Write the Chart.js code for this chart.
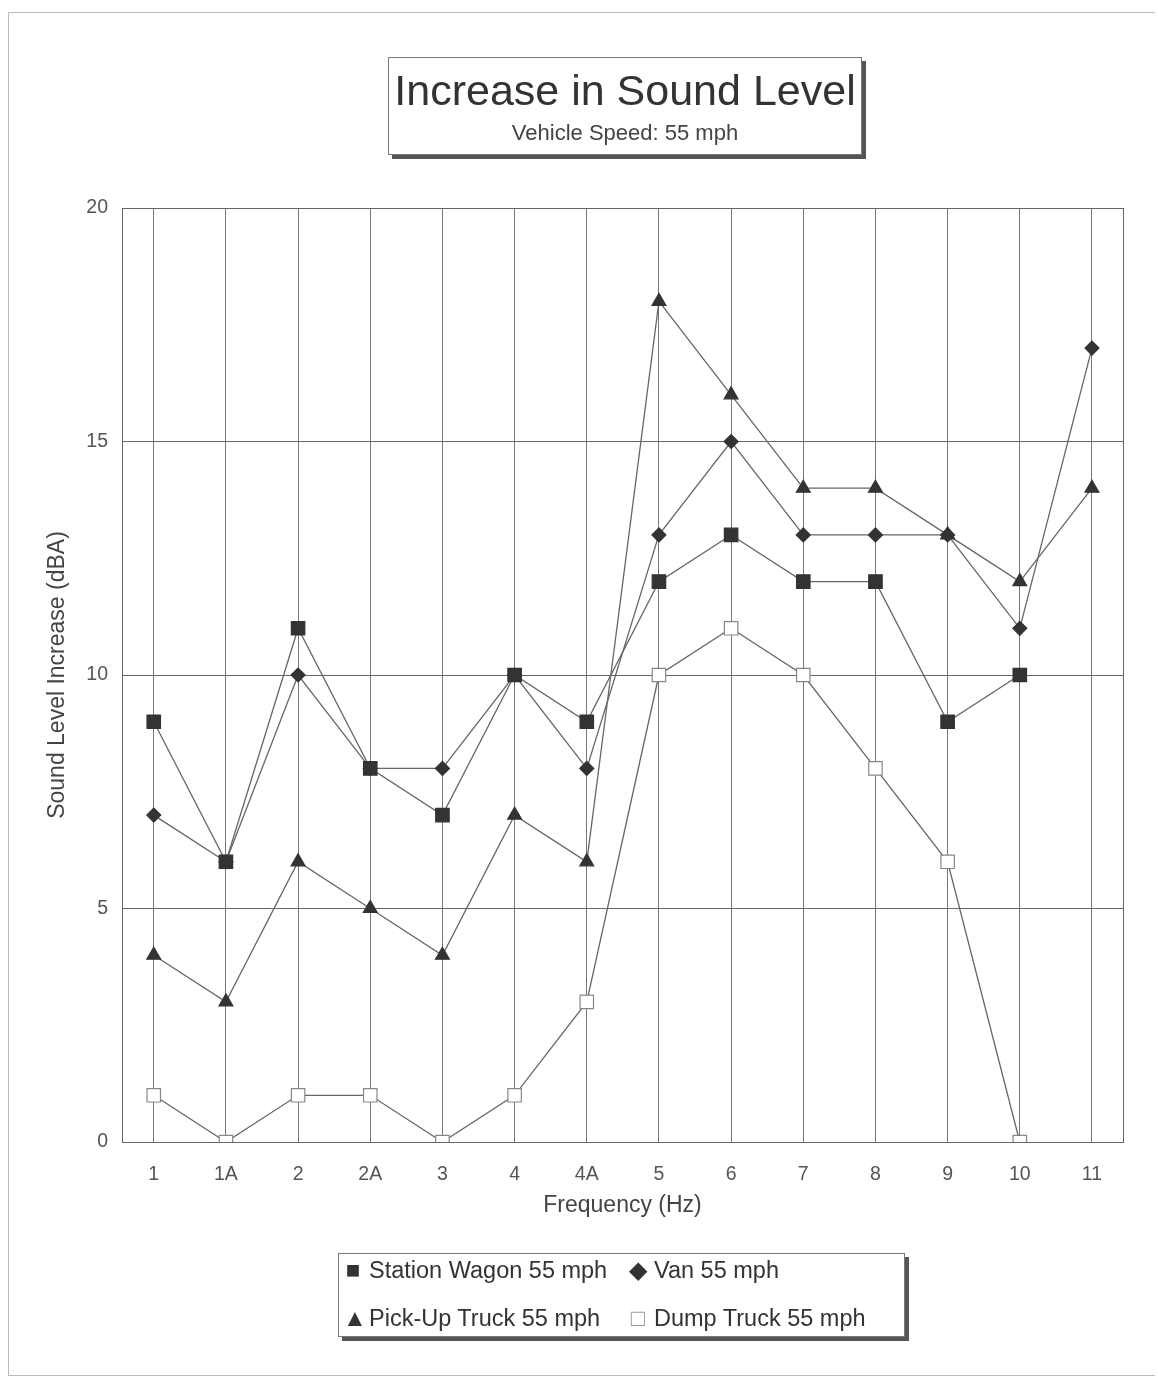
<!DOCTYPE html>
<html>
<head>
<meta charset="utf-8">
<script src="https://cdn.jsdelivr.net/npm/chart.js@4/dist/chart.umd.min.js"></script>
<style>
  body { margin: 0; background: #fff; font-family: "Liberation Sans", Arial, sans-serif; }
  #wrap { position: relative; width: 1158px; height: 1378px; }
  #frame { position: absolute; left: 8px; top: 12px; width: 1146px; height: 1362px; border: 1px solid #bbb; border-right: none; }
  #titulo { position: absolute; left: 388px; top: 57px; width: 472px; height: 96px; border: 1px solid #777;
            box-shadow: 4px 4px 0 #555; background: #fff; text-align: center; color: #333; }
  #titulo .t1 { font-size: 43px; margin-top: 9px; line-height: 46px; }
  #titulo .t2 { font-size: 22px; margin-top: 7px; color: #444; }
  #leyenda { position: absolute; left: 338px; top: 1253px; width: 565px; height: 82px; border: 1px solid #777;
             box-shadow: 4px 4px 0 #555; background: #fff; color: #333; font-size: 23.5px; }
  .item { position: absolute; white-space: nowrap; line-height: 30px; }
  .sym { display: inline-block; width: 20px; text-align: center; font-size: 24px; margin-right: 6px; vertical-align: top; }
  canvas { position: absolute; left: 0; top: 0; }
</style>
</head>
<body>
<div id="wrap">
  <div id="frame"></div>
  <canvas id="plot" width="1158" height="1378"></canvas>
  <div id="titulo">
    <div class="t1">Increase in Sound Level</div>
    <div class="t2">Vehicle Speed: 55 mph</div>
  </div>
  <div id="leyenda"></div>
</div>
<script>
// categorias del eje x
let frecuencias = ['1', '1A', '2', '2A', '3', '4', '4A', '5', '6', '7', '8', '9', '10', '11'];

// valores (dBA)
let stationWagon = [9, 6, 11, 8, 7, 10, 9, 12, 13, 12, 12, 9, 10, null];
let van = [7, 6, 10, 8, 8, 10, 8, 13, 15, 13, 13, 13, 11, 17];
let pickUp = [4, 3, 6, 5, 4, 7, 6, 18, 16, 14, 14, 13, 12, 14];
let dumpTruck = [1, 0, 1, 1, 0, 1, 3, 10, 11, 10, 8, 6, 0, null];

let nombres = ['Station Wagon 55 mph', 'Van 55 mph', 'Pick-Up Truck 55 mph', 'Dump Truck 55 mph'];
let yTicks = [0, 5, 10, 15, 20];

let aPuntos = arr => arr.map((v, i) => ({x: i, y: v}));

let series = [
  {label: nombres[0], data: aPuntos(stationWagon), pointStyle: 'rect', pointRadius: 9.5, pointBackgroundColor: '#333', pointBorderColor: '#333'},
  {label: nombres[1], data: aPuntos(van), pointStyle: 'rectRot', pointRadius: 7, pointBackgroundColor: '#333', pointBorderColor: '#333'},
  {label: nombres[2], data: aPuntos(pickUp), pointStyle: 'triangle', pointRadius: 8, pointBackgroundColor: '#333', pointBorderColor: '#333'},
  {label: nombres[3], data: aPuntos(dumpTruck), pointStyle: 'rect', pointRadius: 9.5, pointBackgroundColor: '#fff', pointBorderColor: '#888'}
];
series.forEach(s => { s.borderColor = '#666'; s.borderWidth = 1.3; s.pointBorderWidth = 1.2; s.showLine = true; });

// borde del area de trazado
let bordePlot = {
  id: 'bordePlot',
  afterDraw(chart) {
    let a = chart.chartArea, ctx = chart.ctx;
    ctx.save();
    ctx.strokeStyle = '#666';
    ctx.lineWidth = 1;
    ctx.strokeRect(a.left + 0.5, a.top + 0.5, a.right - a.left, a.bottom - a.top);
    ctx.restore();
  }
};

let config = {
  type: 'scatter',
  data: {datasets: series},
  plugins: [bordePlot],
  options: {
    responsive: false,
    animation: false,
    layout: {padding: {left: 40, top: 208, right: 35, bottom: 155}},
    plugins: {legend: {display: false}, tooltip: {enabled: false}},
    scales: {
      x: {
        type: 'linear',
        min: -0.44,
        max: 13.43,
        afterBuildTicks: s => { s.ticks = frecuencias.map((_, i) => ({value: i})); },
        afterFit: s => { s.height = 81; },
        grid: {color: '#777', drawTicks: false},
        border: {color: '#666'},
        ticks: {padding: 21, color: '#555', font: {size: 19.5, family: 'Liberation Sans'}, callback: v => frecuencias[v]},
        title: {display: true, text: 'Frequency (Hz)', color: '#444', font: {size: 23, family: 'Liberation Sans'}}
      },
      y: {
        min: 0,
        max: 20,
        afterBuildTicks: s => { s.ticks = yTicks.map(v => ({value: v})); },
        afterFit: s => { s.width = 82; },
        grid: {color: '#666', drawTicks: false},
        border: {color: '#666'},
        ticks: {padding: 14, color: '#555', font: {size: 19.5, family: 'Liberation Sans'}},
        title: {display: true, text: 'Sound Level Increase (dBA)', color: '#444', font: {size: 23, family: 'Liberation Sans'}}
      }
    }
  }
};

let chart = new Chart(document.getElementById('plot'), config);

// leyenda en dos columnas
let simbolos = [
  {c: '■', color: '#333'},
  {c: '◆', color: '#333'},
  {c: '▲', color: '#333'},
  {c: '□', color: '#999'}
];
let posiciones = [[4, 1], [289, 1], [4, 49], [289, 49]];
let leyenda = document.getElementById('leyenda');
nombres.forEach((n, i) => {
  let div = document.createElement('div');
  div.className = 'item';
  div.style.left = posiciones[i][0] + 'px';
  div.style.top = posiciones[i][1] + 'px';
  div.innerHTML = `<span class="sym" style="color:${simbolos[i].color}">${simbolos[i].c}</span>${n}`;
  leyenda.appendChild(div);
});
</script>
</body>
</html>
